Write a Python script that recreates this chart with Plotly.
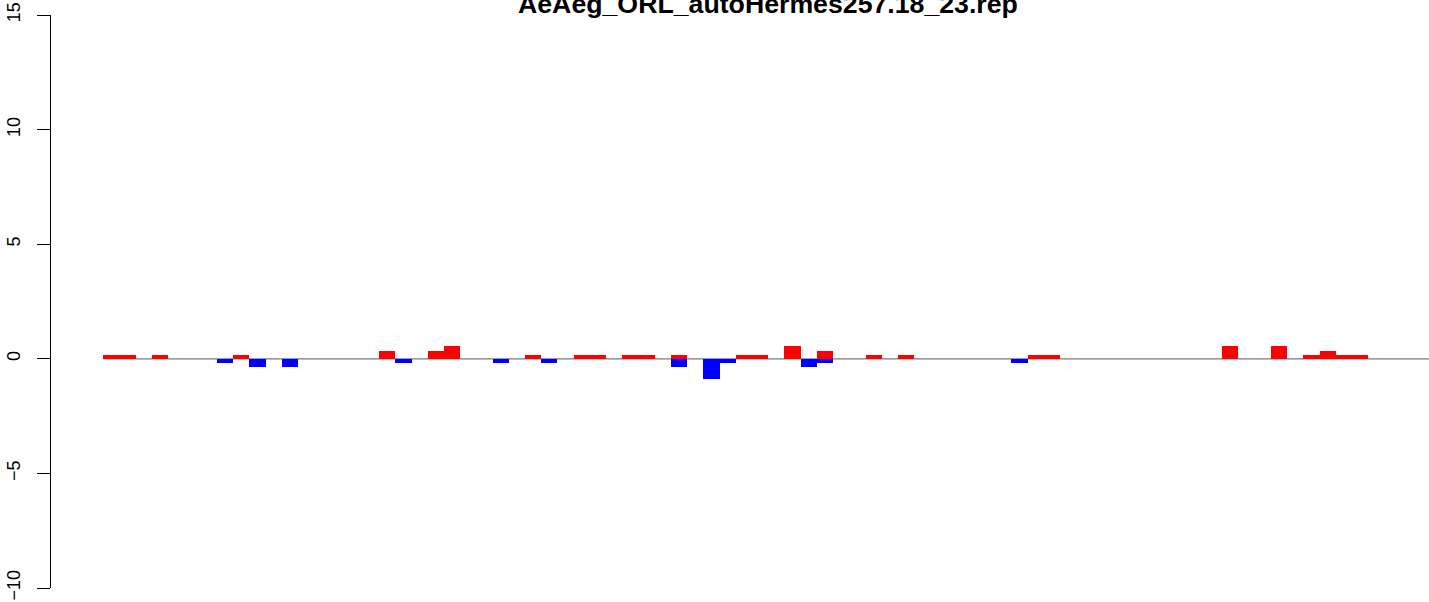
import plotly.graph_objects as go

# slot index of each bar position (0-based)
slots = list(range(82))

# red (positive) values per slot
pos_slots = [0, 1, 3, 8, 17, 20, 21, 26, 29, 30, 32, 33, 35, 39, 40, 42, 44, 47, 49, 57, 58, 69, 72, 74, 75, 76, 77]
pos_vals = [0.18, 0.18, 0.18, 0.18, 0.36, 0.36, 0.54, 0.18, 0.18, 0.18, 0.18, 0.18, 0.18, 0.18, 0.18, 0.54, 0.36, 0.18, 0.18, 0.18, 0.18, 0.54, 0.54, 0.18, 0.36, 0.18, 0.18]

# blue (negative) values per slot
neg_slots = [7, 9, 11, 18, 24, 27, 35, 37, 38, 43, 44, 56]
neg_vals = [-0.18, -0.36, -0.36, -0.18, -0.18, -0.18, -0.36, -0.9, -0.18, -0.36, -0.18, -0.18]

y_ticks = [-10, -5, 0, 5, 10, 15]
y_ticktext = ["\u221210", "\u22125", "0", "5", "10", "15"]
title_text = "AeAeg_ORL_autoHermes257.18_23.rep"

W, H = 1429, 602
left_px, right_px = 50.5, 1429
top_px, bottom_px = 15, 588
slot_px = 16.22
first_px = 103

x_lo = -(first_px - left_px) / slot_px
x_hi = (right_px - first_px) / slot_px

fig = go.Figure()
fig.add_trace(go.Bar(x=[s + 0.5 for s in pos_slots], y=pos_vals, width=1,
                     marker=dict(color="#FF0000", line=dict(width=0)), showlegend=False))
fig.add_trace(go.Bar(x=[s + 0.5 for s in neg_slots], y=neg_vals, width=1,
                     marker=dict(color="#0000FF", line=dict(width=0)), showlegend=False))

fig.add_shape(type="line", xref="x", yref="y", x0=0, x1=x_hi + 5, y0=0, y1=0,
              line=dict(color="#7a7a7a", width=1.2), layer="below")

fig.add_annotation(text="<b>" + title_text + "</b>", xref="paper", yref="paper",
                   x=(767.5 - left_px) / (right_px - left_px), y=1 + (top_px - 4) / (bottom_px - top_px),
                   xanchor="center", yanchor="middle", showarrow=False,
                   font=dict(family="Liberation Sans", size=26.7, color="black"))

fig.update_layout(
    width=W, height=H,
    margin=dict(l=left_px, r=W - right_px, t=top_px, b=H - bottom_px, pad=0, autoexpand=False),
    paper_bgcolor="white", plot_bgcolor="white",
    barmode="relative", bargap=0,
    font=dict(family="Liberation Sans", color="black"),
    xaxis=dict(visible=False, range=[x_lo, x_hi], fixedrange=True),
    yaxis=dict(range=[-10, 15], tickvals=y_ticks, ticktext=y_ticktext,
               showgrid=False, zeroline=False, showline=True, linecolor="black", linewidth=1,
               ticks="outside", ticklen=13, tickwidth=1, tickcolor="black", ticklabelstandoff=10,
               tickangle=-90, tickfont=dict(size=18, family="Liberation Sans", color="black")),
)

fig.write_html("out.html", config={"displayModeBar": False},
               post_script="document.body.style.margin='0px';document.body.style.overflow='hidden';")
